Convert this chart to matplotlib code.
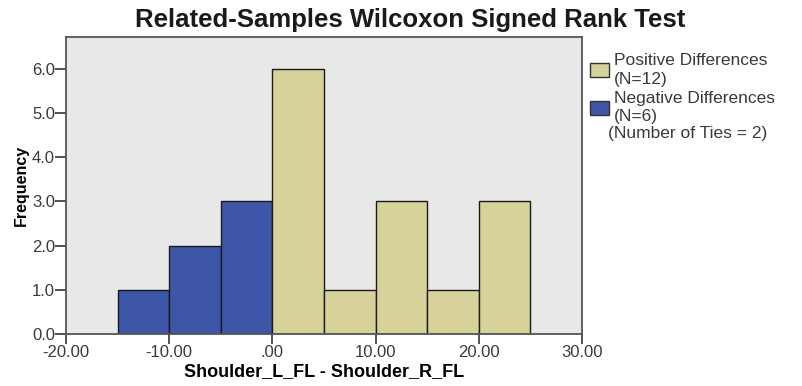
import numpy as np
from matplotlib import pyplot as plt
from matplotlib.patches import Patch

plt.rcParams['font.family'] = ['Liberation Sans', 'DejaVu Sans']

# Histogram data (bin width 5)
neg_edges = [-15, -10, -5]
neg_counts = [1, 2, 3]
pos_edges = [0, 5, 10, 15, 20]
pos_counts = [6, 1, 3, 1, 3]
bin_width = 5

x_ticks = [-20, -10, 0, 10, 20, 30]
x_labels = ["-20.00", "-10.00", ".00", "10.00", "20.00", "30.00"]
y_ticks = [0, 1, 2, 3, 4, 5, 6]

pos_color = "#d6d29a"
neg_color = "#3d56a8"
txt_color = "#3a3a3a"

fig = plt.figure(figsize=(8.03, 3.86), dpi=100)
ax = fig.add_axes([0.0822, 0.1347, 0.6426, 0.7694])
ax.set_facecolor("#e8e8e8")

ax.bar(neg_edges, neg_counts, width=bin_width, align="edge",
       color=neg_color, edgecolor="#1a1a1a", linewidth=1.0)
ax.bar(pos_edges, pos_counts, width=bin_width, align="edge",
       color=pos_color, edgecolor="#1a1a1a", linewidth=1.0)

ax.set_xlim(-20, 30)
ax.set_ylim(0, 6.72)
ax.set_xticks(x_ticks)
ax.set_xticklabels(x_labels)
ax.set_yticks(y_ticks)
ax.set_yticklabels([f"{v:.1f}" for v in y_ticks])
ax.tick_params(labelsize=12, colors="#444444", labelcolor=txt_color, width=1.3)
ax.tick_params(axis="y", length=8, pad=0)
ax.tick_params(axis="x", length=7, pad=1)
for s in ax.spines.values():
    s.set_color("#555555")
    s.set_linewidth(1.3)

ax.set_xlabel("Shoulder_L_FL - Shoulder_R_FL", fontsize=13, fontweight="bold", labelpad=2)
ax.set_ylabel("Frequency", fontsize=11.5, fontweight="bold", labelpad=2)
fig.text(0.511, 0.948, "Related-Samples Wilcoxon Signed Rank Test",
         ha="center", va="center", fontsize=18.5, fontweight="bold", color="#1a1a1a")

handles = [Patch(facecolor=pos_color, edgecolor="#333333"),
           Patch(facecolor=neg_color, edgecolor="#333333")]
leg = fig.legend(handles, ["Positive Differences\n(N=12)", "Negative Differences\n(N=6)"],
                 loc="upper left", bbox_to_anchor=(0.7347, 0.862), frameon=False,
                 fontsize=12.5, handlelength=1.1, handleheight=0.86,
                 handletextpad=0.3, labelspacing=0.25, borderaxespad=0, borderpad=0)
for t in leg.get_texts():
    t.set_color(txt_color)
    t.set_linespacing(1.28)
fig.text(0.757, 0.653, "(Number of Ties = 2)", fontsize=12.5, color=txt_color, va="center")

plt.savefig("out.png", dpi=100)
